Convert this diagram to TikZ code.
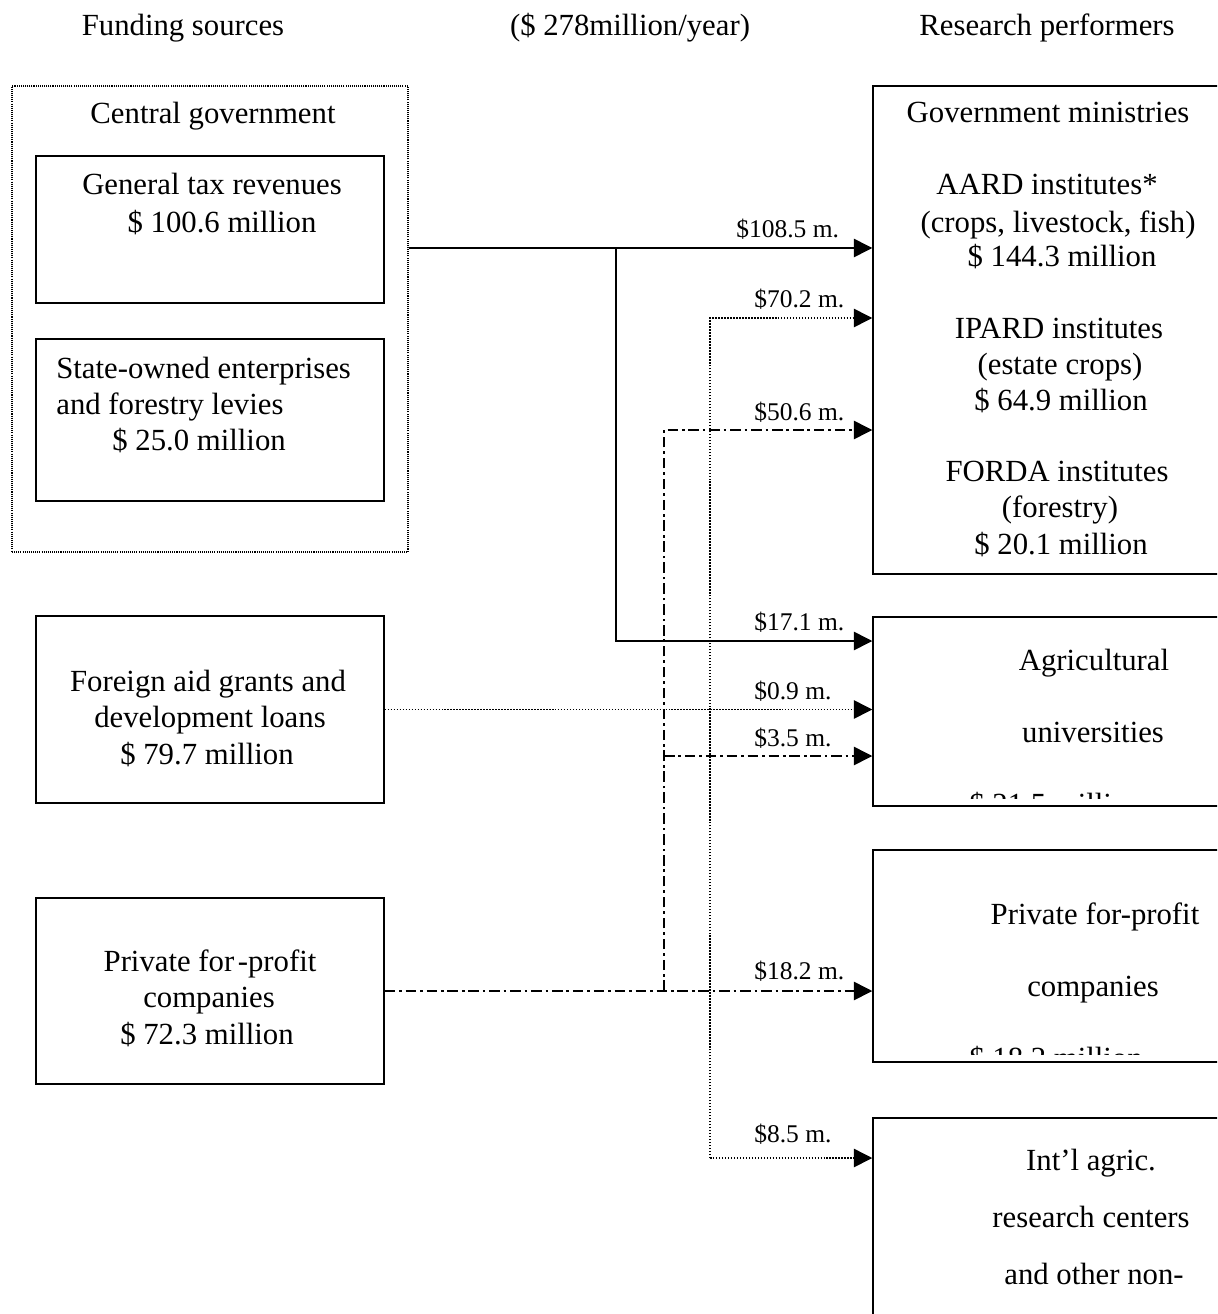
\documentclass[tikz,border=0pt]{standalone}
\usepackage{fontspec}
\setmainfont{Liberation Serif}
\usetikzlibrary{arrows.meta}
\newcommand\upx{0.02cm}
\tikzset{
  box/.style 2 args={draw, line width=0.85pt, minimum width=#1*\upx, minimum height=#2*\upx, inner sep=0pt},
  txt/.style={font=\fontsize{17.5}{20.4}\selectfont, inner sep=0pt, anchor=base},
  amt/.style={font=\fontsize{14.5}{16}\selectfont, inner sep=0pt, anchor=base west},
  flow/.style={line width=0.85pt, -{Triangle[length=10.5pt,width=10.5pt]}},
  dotflow/.style={flow, dash pattern=on 0.85pt off 0.85pt},
  dashflow/.style={flow, dash pattern=on 6pt off 2.2pt on 1.5pt off 2.2pt},
}
\begin{document}
\begin{tikzpicture}[x=\upx, y=-\upx, line join=miter]
\useasboundingbox (0,0) rectangle (1217,1314);
\clip (0,0) rectangle (1217,1314);
% headings
\node[txt] (hfund) at (183,36) {Funding sources};
\node[txt] (htot) at (630,36) {(\$ 278million/year)};
\node[txt] (hperf) at (1047,36) {Research performers};
% funding sources
\node[box={396}{466}, line width=0.7pt, dash pattern=on 0.6pt off 0.6pt] (cg) at (210,319) {};
\node[txt] (cgt) at (213,124) {Central government};
\node[box={348}{147}] (tax) at (210,229.5) {};
\node[box={348}{162}] (soe) at (210,420) {};
\node[box={348}{187}] (fa) at (210,709.5) {};
\node[box={348}{186}] (pfp) at (210,991) {};
\foreach \x/\y/\t [count=\i] in {212/195/General tax revenues, 222/233/\$ 100.6 million}
  \node[txt] (tax\i) at (\x,\y) {\t};
\foreach \y/\t [count=\i] in {378/State-owned enterprises, 414/and forestry levies}
  \node[txt, anchor=base west] (soe\i) at (56,\y) {\t};
\node[txt, anchor=base west] (soe3) at (112,450) {\$ 25.0 million};
\foreach \x/\y/\t [count=\i] in {208/691/Foreign aid grants and, 210/727/development loans, 207/764/\$ 79.7 million}
  \node[txt] (fa\i) at (\x,\y) {\t};
\foreach \x/\y/\t [count=\i] in {210/971/Private for\kern2pt-profit, 209/1007/companies, 207/1044/\$ 72.3 million}
  \node[txt] (pfp\i) at (\x,\y) {\t};
% research performers
\node[box={357}{488}] (gm) at (1051.5,330) {};
\node[box={357}{189}] (au) at (1051.5,711.5) {};
\node[box={357}{212}] (ppc) at (1051.5,956) {};
\node[box={357}{220}] (inl) at (1051.5,1228) {};
\foreach \x/\y/\t [count=\i] in {1048/123/Government ministries, 1047/195/AARD institutes*,
    1058/233/{(crops, livestock, fish)}, 1062/267/\$ 144.3 million, 1059/338/IPARD institutes,
    1060/374/(estate crops), 1061/410/\$ 64.9 million, 1057/481/FORDA institutes,
    1060/517/(forestry), 1061/554/\$ 20.1 million}
  \node[txt] (gm\i) at (\x,\y) {\t};
\node[txt] (au1) at (1094,670) {Agricultural};
\node[txt] (au2) at (1093,742) {universities};
\begin{scope}
  \clip (873,617) rectangle (1230,798);
  \node[txt] (au3) at (1056,814) {\$ 21.5 million};
\end{scope}
\node[txt] (ppc1) at (1095,924) {Private for-profit};
\node[txt] (ppc2) at (1093,996) {companies};
\begin{scope}
  \clip (873,850) rectangle (1230,1054);
  \node[txt] (ppc3) at (1056,1068) {\$ 18.2 million};
\end{scope}
\foreach \x/\y/\t [count=\i] in {1091/1170/Int’l agric., 1091/1227/research centers, 1094/1284/and other non-}
  \node[txt] (inl\i) at (\x,\y) {\t};
% flows
\coordinate (sj) at (616,248);
\coordinate (sb) at (616,641);
\coordinate (dj) at (710,318);
\coordinate (db) at (710,1158);
\coordinate (cj) at (664,430);
\coordinate (cm) at (664,756);
\draw[flow] (cg.east |- sj) -- (sj -| gm.west);
\draw[flow] (sj) |- (sb -| au.west);
\draw[dotflow] (db) -- (dj) -- (dj -| gm.west);
\draw[dotflow] (fa.east) -- (fa.east -| au.west);
\draw[dotflow] (db) -- (db -| inl.west);
\draw[dashflow] (pfp.east -| cj) -- (cj) -- (cj -| gm.west);
\draw[dashflow] (cm) -- (cm -| au.west);
\draw[dashflow] (pfp.east) -- (pfp.east -| ppc.west);
% amounts
\node[amt] (a1) at (736,238) {\$108.5 m.};
\node[amt] (a2) at (754,308) {\$70.2 m.};
\node[amt] (a3) at (754,420) {\$50.6 m.};
\node[amt] (a4) at (754,630) {\$17.1 m.};
\node[amt] (a5) at (754,699) {\$0.9 m.};
\node[amt] (a6) at (754,746) {\$3.5 m.};
\node[amt] (a7) at (754,979) {\$18.2 m.};
\node[amt] (a8) at (754,1142) {\$8.5 m.};
\end{tikzpicture}
\end{document}
